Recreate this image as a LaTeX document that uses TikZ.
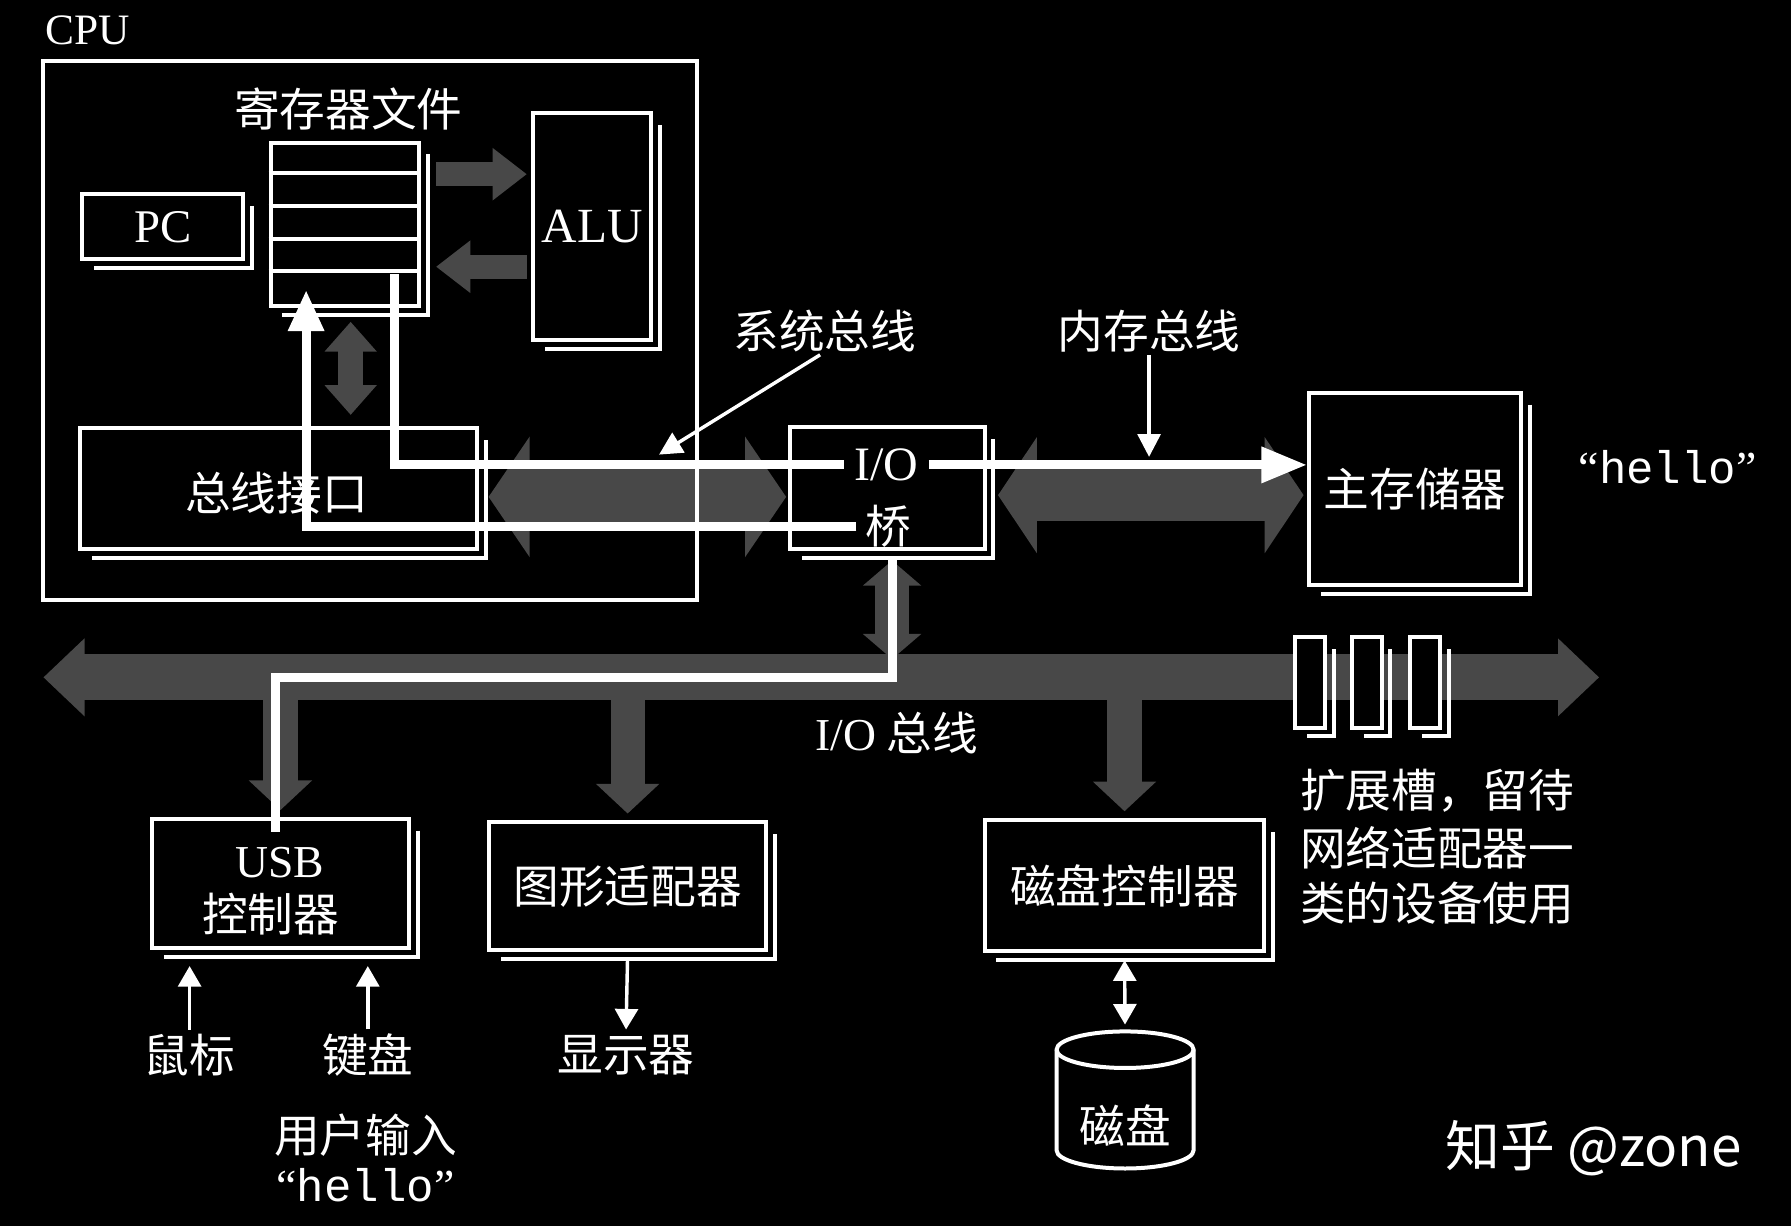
\documentclass[tikz,border=0pt]{standalone}
\usepackage{fontspec}
\setmainfont{Noto Sans CJK SC}
\newfontfamily\serifx{Liberation Serif}
\newfontfamily\monox{Liberation Mono}
\newfontfamily\cjkx{Noto Sans CJK SC}
\usetikzlibrary{arrows.meta,calc}
\pgfdeclarelayer{bg}
\pgfsetlayers{bg,main}
\newcommand\fsz[1]{\fontsize{#1pt}{#1pt}\selectfont}
\definecolor{bandgray}{RGB}{72,72,72}
\tikzset{
  box/.style={draw=white, line width=3.5pt, fill=black, inner sep=0pt, text=white},
  shline/.style={draw=white, line width=3.5pt},
  lbl/.style={text=white, inner sep=0pt, font=\fsz{40}},
  lat/.style={text=white, inner sep=0pt, font=\serifx\fsz{40}},
  band/.style={draw=bandgray, line width=#1},
  wpath/.style={draw=white, line width=8pt},
  thinarr/.style={draw=white, line width=3pt},
}
\newcommand\shbox[1]{\draw[shline] ($(#1.north east)+(6,12)$) -- ($(#1.south east)+(6,6)$) -- ($(#1.south west)+(12,6)$);}
\begin{document}
\begin{tikzpicture}[x=1pt,y=-1pt]
\begin{pgfonlayer}{bg}
\fill[black] (0,0) rectangle (1568,1073);
\end{pgfonlayer}
\useasboundingbox (0,0) rectangle (1568,1073);

% CPU
\node[draw=white, line width=3.5pt, inner sep=0pt, minimum width=572pt, minimum height=472pt] (cpu) at (324,289) {};
\node[lat, font=\serifx\fsz{38}] (cpulbl) at (77,27) {CPU};

% boxes
\node[box, minimum width=130pt, minimum height=143pt] (rf) at (302,196.5) {};
\shbox{rf}
\foreach \k in {1,...,4} \draw[shline] ($(rf.north west)+(0,28.6*\k)$) -- ($(rf.north east)+(0,28.6*\k)$);
\node[lbl] (rflbl) at (305,95) {寄存器文件};

\node[box, minimum width=141pt, minimum height=57pt, font=\serifx\fsz{41}] (pc) at (142.5,198.5) {PC};
\shbox{pc}
\node[box, minimum width=103pt, minimum height=199pt, font=\serifx\fsz{43}] (alu) at (518.5,198.5) {ALU};
\shbox{alu}
\node[box, minimum width=348pt, minimum height=106pt] (bi) at (244,428) {};
\shbox{bi}
\node[lbl] (bilbl) at (242,432) {总线接口};

\node[box, minimum width=170pt, minimum height=107pt] (iob) at (777,427.5) {};
\shbox{iob}
\node[lat, font=\serifx\fsz{42}, inner xsep=9pt] (iobt1) at (776,407) {I/O};
\node[lbl, inner xsep=8pt] (iobt2) at (778,461) {桥};

\node[box, minimum width=186pt, minimum height=168pt, font=\fsz{40}] (mem) at (1239,428) {主存储器};
\shbox{mem}
\node[text=white, inner sep=0pt] (hello1) at (1460,409) {\serifx\fsz{40}“\monox hello\serifx ”};

\node[box, minimum width=225pt, minimum height=113pt] (usb) at (245.5,773.5) {};
\shbox{usb}
\node[lat] (usbt1) at (245,755) {USB};
\node[lbl] (usbt2) at (237,800) {控制器};

\node[box, minimum width=243pt, minimum height=112pt, font=\fsz{40}] (ga) at (549.5,776) {图形适配器};
\shbox{ga}
\node[box, minimum width=245pt, minimum height=115pt, font=\fsz{40}] (dc) at (984.5,775.5) {磁盘控制器};
\shbox{dc}

\node[box, minimum width=26pt, minimum height=79pt] (slot1) at (1147,597.5) {};
\shbox{slot1}
\node[box, minimum width=26pt, minimum height=79pt] (slot2) at (1196.5,597.5) {};
\shbox{slot2}
\node[box, minimum width=26pt, minimum height=79pt] (slot3) at (1247.5,597.5) {};
\shbox{slot3}

% labels
\node[lbl] (sysbus) at (722,290) {系统总线};
\node[lbl] (membus) at (1006,290) {内存总线};
\node[lbl] (iobuslbl) at (785,642) {{\serifx I/O} 总线};
\node[lbl, anchor=west] (ext1) at (1138,692) {扩展槽，留待};
\node[lbl, anchor=west] (ext2) at (1138,742) {网络适配器一};
\node[lbl, anchor=west] (ext3) at (1138,791) {类的设备使用};
\node[lbl] (mouse) at (166,924) {鼠标};
\node[lbl] (kbd) at (322,924) {键盘};
\node[lbl] (userin) at (320,994) {用户输入};
\node[text=white, inner sep=0pt] (hello2) at (320,1038) {\serifx\fsz{40}“\monox hello\serifx ”};
\node[lbl] (disp) at (548,924) {显示器};
\node[lbl] (disk) at (985,985) {磁盘};
\node[text=white, inner sep=0pt, font=\cjkx\fsz{48}] (wm) at (1395,1005) {知乎 @zone};

% coordinates
\coordinate (rfout) at (345,240);
\coordinate (rfin) at (268,254);
\coordinate (usbin) at (241,728);
\coordinate (iobl) at (38,593);
\coordinate (iobr) at (1400,593);
\coordinate (systip) at (577,398);
\coordinate (memtip) at (1006,400);
\coordinate (disktop) at (985,903);

% gray buses (background)
\begin{pgfonlayer}{bg}
\draw[band=21pt, -{Triangle[width=44pt,length=30pt]}] ($(rf.east)+(13,-44)$) -- ($(rf.east -| alu.west)+(-4,-44)$);
\draw[band=21pt, -{Triangle[width=44pt,length=30pt]}] ($(rf.east -| alu.west)+(-4,37)$) -- ($(rf.east)+(13,37)$);
\draw[band=22pt, {Triangle[width=44pt,length=26pt]}-{Triangle[width=44pt,length=26pt]}] ($(rf.south)+(5,12)$) -- ($(rf.south |- bi.north)+(5,-10)$);
\draw[band=52pt, {Triangle[width=104pt,length=36pt]}-{Triangle[width=104pt,length=36pt]}] ($(bi.east)+(8,7)$) -- ($(bi.east -| iob.west)+(-2,7)$);
\draw[band=46pt, {Triangle[width=100pt,length=34pt]}-{Triangle[width=100pt,length=34pt]}] ($(iob.east)+(10,6)$) -- ($(iob.east -| mem.west)+(-3,6)$);
\draw[band=40pt, {Triangle[width=66pt,length=36pt]}-{Triangle[width=66pt,length=36pt]}] (iobl) -- (iobr);
\draw[band=30pt, -{Triangle[width=54pt,length=26pt]}] (usb.north |- iobr) -- ($(usb.north)+(0,-6)$);
\draw[band=30pt, -{Triangle[width=54pt,length=26pt]}] (ga.north |- iobr) -- ($(ga.north)+(0,-6)$);
\draw[band=30pt, -{Triangle[width=54pt,length=26pt]}] (dc.north |- iobr) -- ($(dc.north)+(0,-6)$);
\draw[band=30pt, {Triangle[width=50pt,length=22pt]}-{Triangle[width=50pt,length=22pt]}] ($(iob.south)+(4,8)$) -- ($(iob.south |- iobr)+(4,-16)$);
\end{pgfonlayer}

% white data path
\draw[wpath] (rfout) |- (iobt1.west);
\draw[wpath, -{Triangle[width=30pt,length=40pt]}] (iobt1.east) -- (iobt1.east -| mem.west);
\draw[wpath] (usbin) -- (usbin |- iobr) -| ($(iob.south)+(4,4)$);
\draw[wpath, -{Triangle[width=30pt,length=36pt]}] (iobt2.west) -| (rfin);

% thin arrows
\draw[thinarr, -{Triangle[width=20pt,length=20pt]}] ($(sysbus.south)+(-4,2)$) -- (systip);
\draw[thinarr, -{Triangle[width=20pt,length=20pt]}] ($(membus.south)+(0,2)$) -- (memtip);
\draw[thinarr, -{Triangle[width=20pt,length=18pt]}, shorten <=4pt, shorten >=14pt] (mouse.north) -- (mouse.north |- usb.south);
\draw[thinarr, -{Triangle[width=20pt,length=18pt]}, shorten <=4pt, shorten >=14pt] (kbd.north) -- (kbd.north |- usb.south);
\draw[thinarr, -{Triangle[width=20pt,length=18pt]}, shorten <=7pt, shorten >=5pt] (ga.south) -- (disp.north);
\draw[thinarr, {Triangle[width=20pt,length=18pt]}-{Triangle[width=20pt,length=18pt]}, shorten <=6pt, shorten >=6pt] (dc.south) -- (disktop);

% disk cylinder
\begin{pgfonlayer}{bg}
\draw[shline, fill=black] ($(disk)+(-60,-66)$) -- ($(disk)+(-60,22)$) arc[start angle=180,end angle=360,x radius=60pt,y radius=16pt] -- ($(disk)+(60,-66)$) arc[start angle=0,end angle=180,x radius=60pt,y radius=16pt] -- cycle;
\draw[shline] ($(disk)+(-60,-66)$) arc[start angle=180,end angle=360,x radius=60pt,y radius=16pt];
\end{pgfonlayer}
\end{tikzpicture}
\end{document}
